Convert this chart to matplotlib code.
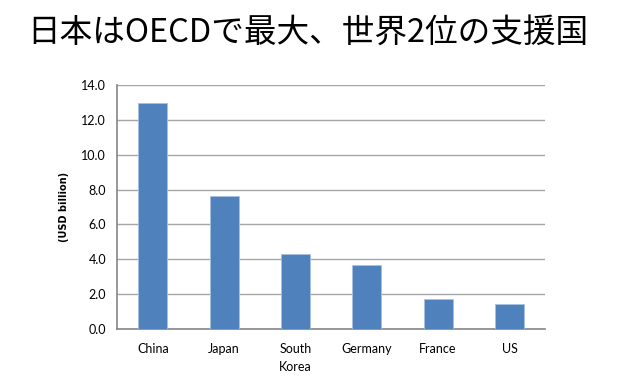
import numpy as np
import matplotlib.pyplot as plt

plt.rcParams['font.family'] = ['Noto Sans CJK JP', 'DejaVu Sans']

countries = ['China', 'Japan', 'South\nKorea', 'Germany', 'France', 'US']
aid = [13.0, 7.65, 4.3, 3.67, 1.72, 1.45]
yticks = [0.0, 2.0, 4.0, 6.0, 8.0, 10.0, 12.0, 14.0]

fig = plt.figure(figsize=(6.23, 3.85), dpi=100)
ax = fig.add_axes([0.188, 0.1455, 0.687, 0.6335])

x = np.arange(len(countries))
ax.bar(x, aid, width=0.41, color='#4f81bd', edgecolor='#a9c1e0', linewidth=0.6, zorder=3)

ax.set_xlim(-0.5, len(countries) - 0.5)
ax.set_ylim(0, 14)
ax.set_yticks(yticks)
ax.set_yticklabels([f'{v:.1f}' for v in yticks], fontsize=9, family='Lato')
ax.set_xticks(x)
ax.set_xticklabels(countries, fontsize=9, family='Lato', linespacing=1.6, va='top')
ax.tick_params(axis='both', length=0, pad=8)
ax.tick_params(axis='x', pad=10)

ax.grid(axis='y', color='#a6a6a6', linewidth=1, zorder=0)
for s in ['top', 'right']:
    ax.spines[s].set_visible(False)
ax.spines['left'].set_color('#868686')
ax.spines['bottom'].set_color('#868686')
ax.spines['left'].set_linewidth(1.2)
ax.spines['bottom'].set_linewidth(1.2)

ax.set_ylabel('(USD billion)', fontsize=7, fontweight='bold', family='DejaVu Sans', labelpad=9)

fig.text(0.043, 0.915, '日本はOECDで最大、世界2位の支援国', fontsize=23.5, ha='left', va='center')

fig.savefig('out.png', dpi=100)
